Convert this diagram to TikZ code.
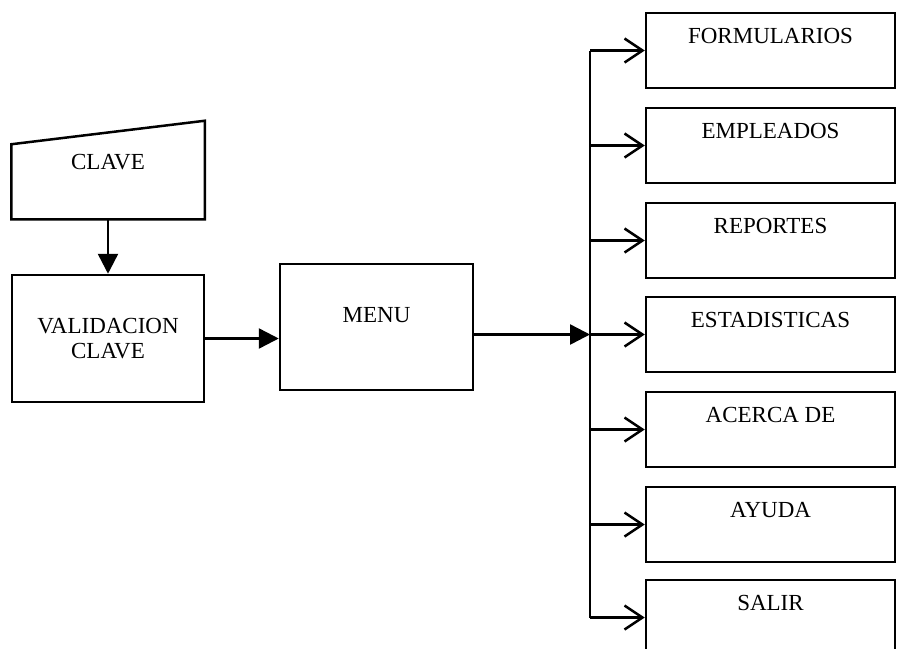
\documentclass[tikz,border=0pt]{standalone}
\usepackage{fontspec}
\setmainfont{Liberation Serif}
\usetikzlibrary{arrows.meta}

\begin{document}
\begin{tikzpicture}[x=1pt, y=-1pt, line width=2.5pt,
		font=\fontsize{23}{25}\selectfont,
		caja/.style={draw, minimum width=249pt, minimum height=75pt, inner sep=0pt},
		lleno/.style={-{Triangle[length=20pt,width=20pt]}},
		abierto/.style={-{Straight Barb[length=18pt,width=24pt]}}]
		%%%%% START %%%%%
		\clip (0,0) rectangle (899,648);
		
		% entrada de clave
		\node[minimum width=191pt, minimum height=96pt, inner sep=0pt,
			label={[anchor=center, yshift=-41pt]north:CLAVE}] (clave) at (108, 170) {};
		\draw (clave.south west) -- ++(0,-75) -- (clave.north east) -- (clave.south east) -- cycle;
		
		\node[draw, minimum width=192pt, minimum height=127pt, align=center] (validacion) at (108, 338.5) {VALIDACION\\CLAVE};
		\node[draw, minimum width=193pt, minimum height=126pt,
			label={[anchor=center, yshift=-52pt]north:MENU}] (menu) at (376.5, 327) {};
		
		\draw[lleno] (clave.south) -- (validacion.north);
		\draw[lleno] (validacion.east) -- (validacion.east -| menu.west);
		
		% opciones del menu
		\node[caja, label={[anchor=center, yshift=-24pt]north:FORMULARIOS}] (formularios) at (770.5, 50.5) {};
		\node[caja, label={[anchor=center, yshift=-24pt]north:EMPLEADOS}] (empleados) at (770.5, 145.5) {};
		\node[caja, label={[anchor=center, yshift=-24pt]north:REPORTES}] (reportes) at (770.5, 240.5) {};
		\node[caja, label={[anchor=center, yshift=-24pt]north:ESTADISTICAS}] (estadisticas) at (770.5, 334.5) {};
		\node[caja, label={[anchor=center, yshift=-24pt]north:ACERCA DE}] (acerca) at (770.5, 429.5) {};
		\node[caja, label={[anchor=center, yshift=-24pt]north:AYUDA}] (ayuda) at (770.5, 524.5) {};
		\node[caja, label={[anchor=center, yshift=-24pt]north:SALIR}] (salir) at (770.5, 617.5) {};
		
		\coordinate (bus) at (590, 334.5);
		\draw[lleno] (menu.east |- bus) -- (bus);
		\draw (formularios.west -| bus) -- (salir.west -| bus);
		
		\draw[abierto] (formularios.west -| bus) -- (formularios.west);
		\draw[abierto] (empleados.west -| bus) -- (empleados.west);
		\draw[abierto] (reportes.west -| bus) -- (reportes.west);
		\draw[abierto] (bus) -- (estadisticas.west);
		\draw[abierto] (acerca.west -| bus) -- (acerca.west);
		\draw[abierto] (ayuda.west -| bus) -- (ayuda.west);
		\draw[abierto] (salir.west -| bus) -- (salir.west);
		
		%%%%% END %%%%%
	\end{tikzpicture}
\end{document}
